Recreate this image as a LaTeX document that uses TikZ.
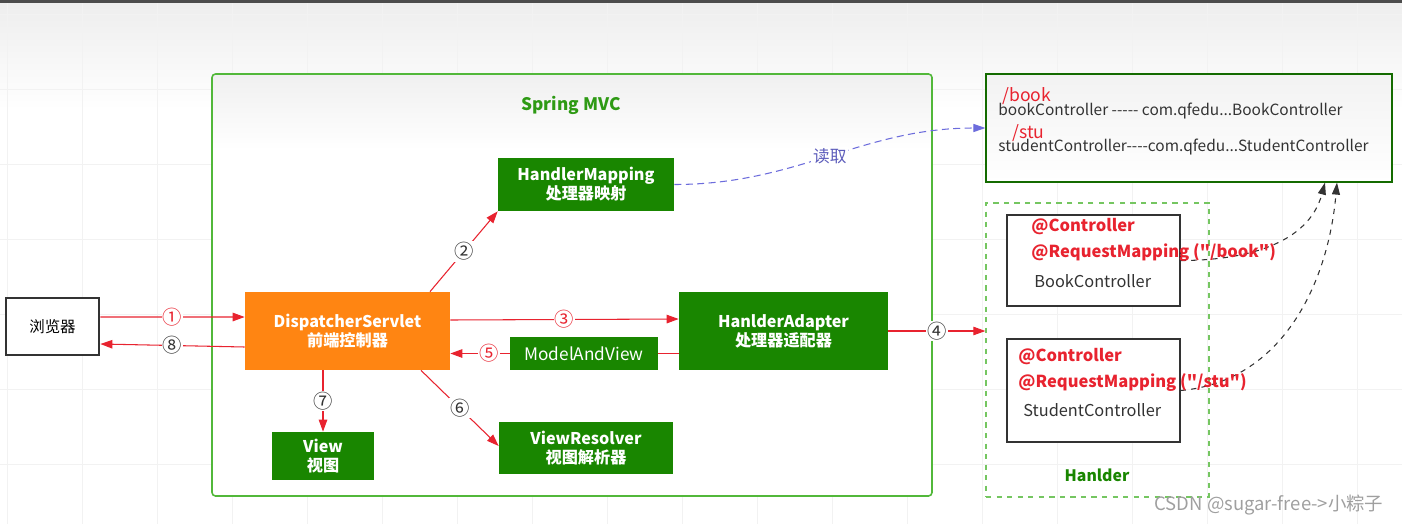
\documentclass[tikz,border=0pt]{standalone}
\usepackage{fontspec}
\setmainfont{Noto Sans CJK SC}[Ligatures=TeXOff]
\usetikzlibrary{arrows.meta}

\definecolor{mvcgreen}{HTML}{198600}
\definecolor{mvcorange}{HTML}{FF8512}
\definecolor{linered}{HTML}{E8232F}
\definecolor{titlegreen}{HTML}{2E9A14}
\definecolor{frame}{HTML}{52B83A}
\definecolor{readblue}{HTML}{6C6CDC}
\definecolor{darktext}{HTML}{333333}

\begin{document}
\begin{tikzpicture}[x=0.02cm, y=-0.02cm,
  font=\fontsize{8.8}{10.8}\selectfont,
  gridline/.style={draw=gray!10, line width=0.5pt},
  greenbox/.style={rectangle, fill=mvcgreen, inner sep=0pt, align=center, text=white, font=\fontsize{9.2}{10.8}\selectfont\bfseries},
  orangebox/.style={greenbox, fill=mvcorange},
  plainbox/.style={rectangle, draw=darktext, fill=white, inner sep=0pt},
  txt/.style={anchor=west, inner sep=0pt},
  anno/.style={txt, text=linered, font=\fontsize{9.4}{10}\selectfont\bfseries},
  redarrow/.style={draw=linered, line width=0.6pt, -{Triangle[length=0.24cm, width=0.17cm]}},
  num/.style={fill=white, inner sep=0.6pt, text=darktext, font=\fontsize{11}{11}\selectfont},
  rednum/.style={num, text=linered},
  beanarrow/.style={draw=darktext, dashed, line width=0.6pt, -{Triangle[length=0.24cm, width=0.16cm]}}
]
\useasboundingbox (0,0) rectangle (1402,524);

% canvas
\shade[top color=gray!14, bottom color=white] (0,0) rectangle (1402,110);
\foreach \gx in {7,82,...,1402} \draw[gridline] (\gx,3) -- (\gx,524);
\foreach \gy in {14,89,...,524} \draw[gridline] (0,\gy) -- (1402,\gy);
\fill[gray!60!black] (0,0) rectangle (1402,3);

% Spring MVC container
\fill[white] (212,74) rectangle (932,496);
\shade[top color=gray!12, bottom color=white] (212,74) rectangle (932,150);
\draw[frame, line width=0.9pt, rounded corners=2pt] (212,74) rectangle (932,496);
\node (mvctitle) [text=titlegreen, font=\fontsize{9.8}{11}\selectfont\bfseries] at (571,105) {Spring MVC};

% nodes
\node (browser) [plainbox, line width=1.6pt, minimum width=1.86cm, minimum height=1.14cm] at (52.5,326.5) {浏览器};
\node (disp) [orangebox, minimum width=4.1cm, minimum height=1.56cm] at (347.5,331) {DispatcherServlet\\前端控制器};
\node (handmap) [greenbox, minimum width=3.52cm, minimum height=1.06cm] at (586,184.5) {HandlerMapping\\处理器映射};
\node (adapter) [greenbox, minimum width=4.18cm, minimum height=1.56cm] at (783.5,331) {HanlderAdapter\\处理器适配器};
\node (mav) [greenbox, font=\fontsize{9.8}{10.8}\selectfont, minimum width=2.96cm, minimum height=0.66cm] at (584,353.5) {ModelAndView};
\node (view) [greenbox, minimum width=2.04cm, minimum height=0.96cm] at (323,456) {View\\视图};
\node (viewres) [greenbox, minimum width=3.48cm, minimum height=1.04cm] at (586,448) {ViewResolver\\视图解析器};

% bean map
\shade[top color=gray!10, bottom color=white] (986,74) rectangle (1392,182);
\node (beanmap) [rectangle, draw=mvcgreen!80!black, line width=0.7pt, minimum width=8.12cm, minimum height=2.16cm] at (1189,128) {};
\node (bookurl) [txt, text=linered, font=\fontsize{10}{11}\selectfont] at (1002,96) {/book};
\node (bookbean) [txt, text=darktext] at (998,111) {bookController ----- com.qfedu...BookController};
\node (stuurl) [txt, text=linered, font=\fontsize{10}{11}\selectfont] at (1012,133) {/stu};
\node (stubean) [txt, text=darktext] at (998,147) {studentController----com.qfedu...StudentController};

% handlers
\node (handler) [rectangle, draw=frame!80, dashed, line width=0.8pt, minimum width=4.46cm, minimum height=5.88cm] at (1097.5,350) {};
\node (handlertitle) [text=mvcgreen, font=\fontsize{9}{11}\selectfont\bfseries] at (1097,475) {Hanlder};
\node (bookctl) [plainbox, line width=0.8pt, minimum width=3.46cm, minimum height=1.82cm] at (1093.5,260.5) {};
\node (stuctl) [plainbox, line width=0.8pt, minimum width=3.46cm, minimum height=2.06cm] at (1093.5,390.5) {};

% flow
\draw[redarrow] ([yshift=0.19cm]browser.east) -- node[rednum]{①} ([yshift=0.28cm]disp.west);
\draw[redarrow] ([yshift=-0.32cm]disp.west) -- node[num]{⑧} ([yshift=-0.35cm]browser.east);
\draw[redarrow] ([xshift=1.65cm]disp.north) -- node[num]{②} (handmap.south west);
\draw[redarrow] ([yshift=0.22cm]disp.east) -- node[rednum]{③} ([yshift=0.24cm]adapter.west);
\draw[redarrow] (adapter.east) -- node[num]{④} (adapter.east -| handler.west);
\draw[draw=linered, line width=0.6pt] (adapter.west |- mav.east) -- (mav.east);
\draw[redarrow] (mav.west) -- node[rednum, pos=0.35]{⑤} (disp.east |- mav.west);
\draw[redarrow] ([xshift=1.47cm]disp.south) -- node[num]{⑥} ([yshift=0.04cm]viewres.west);
\draw[redarrow] (view.north |- disp.south) -- node[num]{⑦} (view.north);

% read
\draw[readblue, dash pattern=on 4pt off 2.5pt, line width=0.6pt, -{Triangle[length=0.24cm, width=0.16cm]}] (handmap.east) to[out=0, in=180] node[fill=white, inner sep=1pt, text=readblue!85!black, font=\fontsize{9.5}{10}\selectfont, pos=0.5]{读取} (beanmap.west);

% handler to bean map
\draw[beanarrow] (bookctl.east) to[out=0, in=-105] ([xshift=2.72cm]beanmap.south);
\draw[beanarrow] (stuctl.east) to[out=5, in=-95] ([xshift=2.96cm]beanmap.south);

% annotations
\node (bookann) [anno] at (1031,227) {@Controller};
\node (bookmap) [anno] at (1031,253) {@RequestMapping ("/book")};
\node (bookname) [txt, text=darktext, font=\fontsize{9.3}{10}\selectfont] at (1034,281) {BookController};
\node (stuann) [anno] at (1018,357) {@Controller};
\node (stumap) [anno] at (1018,383) {@RequestMapping ("/stu")};
\node (stuname) [txt, text=darktext, font=\fontsize{9.3}{10}\selectfont] at (1023,410) {StudentController};

\node (mark) [text=gray!75, font=\fontsize{10.5}{12}\selectfont] at (1269,505) {CSDN @sugar-free->小粽子};
\end{tikzpicture}
\end{document}
